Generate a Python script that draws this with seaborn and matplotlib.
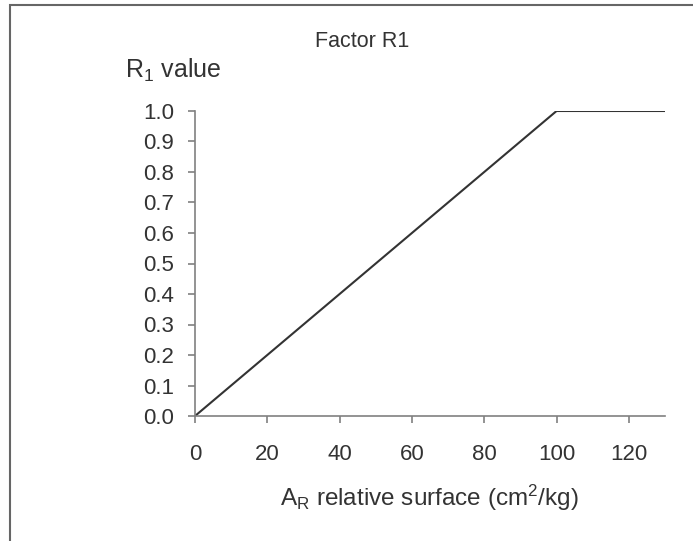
import numpy as np
import pandas as pd
import matplotlib
matplotlib.use("Agg")
import matplotlib.pyplot as plt
import matplotlib.patches as patches
import seaborn as sns

# data
surface = [0, 5, 10, 20, 30, 40, 50, 60, 70, 80, 90, 100, 130]
r1_value = [0.0, 0.05, 0.10, 0.20, 0.30, 0.40, 0.50, 0.60, 0.70, 0.80, 0.90, 1.00, 1.00]
x_ticks = [0, 20, 40, 60, 80, 100, 120]
y_ticks = [0.0, 0.1, 0.2, 0.3, 0.4, 0.5, 0.6, 0.7, 0.8, 0.9, 1.0]

sns.set_style("ticks")
plt.rcParams['font.family'] = ['Liberation Sans', 'DejaVu Sans']
plt.rcParams['mathtext.fontset'] = 'custom'
plt.rcParams['mathtext.rm'] = 'Liberation Sans'
plt.rcParams['mathtext.it'] = 'Liberation Sans'

TXT = '#333333'
AX = '#808080'

W, H = 693, 541
fig = plt.figure(figsize=(W / 100, H / 100), dpi=100)
ax = fig.add_axes([195 / W, 1 - 416 / H, 470 / W, 305 / H])

df = pd.DataFrame({'surface': surface, 'r1': r1_value})
sns.lineplot(data=df, x='surface', y='r1', ax=ax, color='#333333', linewidth=1.5)

ax.set_xlim(0, 130)
ax.set_ylim(0, 1.0)
ax.set_xticks(x_ticks)
ax.set_yticks(y_ticks)
ax.set_yticklabels([f"{v:.1f}" for v in y_ticks])
ax.set_xlabel('')
ax.set_ylabel('')
sns.despine(ax=ax)
for s in ['left', 'bottom']:
    ax.spines[s].set_color(AX)
    ax.spines[s].set_linewidth(1.2)
ax.tick_params(axis='y', length=5, width=1.2, color=AX, pad=10, labelsize=16, labelcolor=TXT)
ax.tick_params(axis='x', length=5, width=1.2, color=AX, pad=15, labelsize=16, labelcolor=TXT)

# axis texts
fig.text(429 / W, 1 - 506 / H, r'A$\mathregular{_R}$ relative surface (cm$\mathregular{^2}$/kg)',
         ha='center', va='baseline', fontsize=17.5, color=TXT)
fig.text(125 / W, 1 - 78 / H, r'R$\mathregular{_1}$ value',
         ha='left', va='baseline', fontsize=18, color=TXT)
fig.text(315 / W, 1 - 47 / H, 'Factor R1', ha='left', va='baseline', fontsize=15.5, color=TXT)

# frame around the chart (cut off at right and bottom)
frame = patches.Rectangle((10 / W, -0.2), 1.2, (1 - 5 / H) + 0.2, transform=fig.transFigure,
                          fill=False, edgecolor='#666666', linewidth=1.5, clip_on=False)
fig.patches.append(frame)

fig.savefig('out.png', dpi=100)
